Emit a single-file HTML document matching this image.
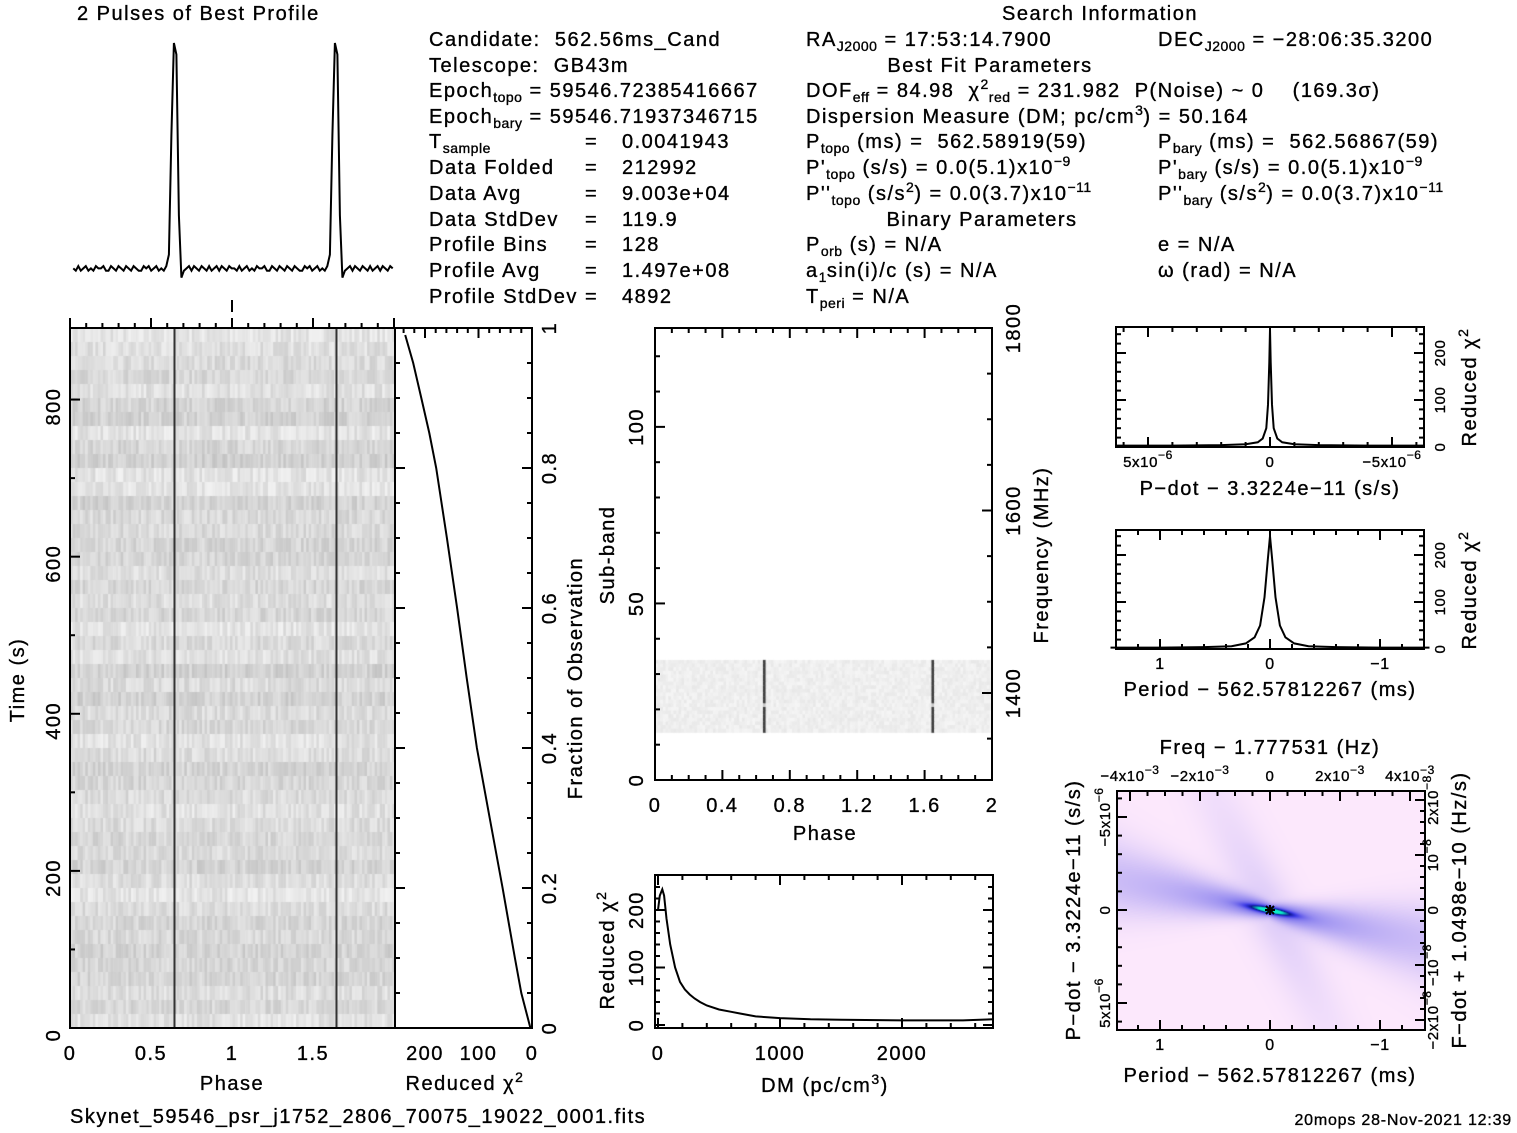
<!DOCTYPE html>
<html><head><meta charset="utf-8"><style>
html,body{margin:0;padding:0;background:#fff;}
#wrap{position:relative;width:1517px;height:1133px;overflow:hidden;background:#fff;}
canvas{position:absolute;}
svg{position:absolute;left:0;top:0;}
text{font-family:"Liberation Sans",sans-serif;font-size:20px;fill:#000;white-space:pre;letter-spacing:1.5px;stroke:#000;stroke-width:0.35px;}
.sm{font-size:14px;letter-spacing:0.5px;}
</style></head><body>
<div id="wrap">
<canvas id="cTP" width="325" height="700" style="left:70px;top:328px"></canvas>
<canvas id="cSB" width="337" height="452" style="left:655px;top:328px"></canvas>
<canvas id="cPP" width="308" height="239" style="left:1117px;top:791px"></canvas>
<svg id="svg" width="1517" height="1133" xmlns="http://www.w3.org/2000/svg">
<g>
<text x="77" y="20">2 Pulses of Best Profile</text>
<text x="1100" y="20" text-anchor="middle">Search Information</text>
<text x="429" y="46">Candidate:  562.56ms_Cand</text>
<text x="429" y="72">Telescope:  GB43m</text>
<text x="429" y="97">Epoch<tspan dy="5" class="sm">topo</tspan><tspan dy="-5"> = 59546.72385416667</tspan></text>
<text x="429" y="123">Epoch<tspan dy="5" class="sm">bary</tspan><tspan dy="-5"> = 59546.71937346715</tspan></text>
<text x="429" y="148">T<tspan dy="5" class="sm">sample</tspan></text>
<text x="429" y="174">Data Folded</text><text x="429" y="200">Data Avg</text><text x="429" y="226">Data StdDev</text>
<text x="429" y="251">Profile Bins</text><text x="429" y="277">Profile Avg</text><text x="429" y="303">Profile StdDev</text>
<text x="585" y="148">=</text><text x="585" y="174">=</text><text x="585" y="200">=</text><text x="585" y="226">=</text><text x="585" y="251">=</text><text x="585" y="277">=</text><text x="585" y="303">=</text>
<text x="622" y="148">0.0041943</text><text x="622" y="174">212992</text><text x="622" y="200">9.003e+04</text><text x="622" y="226">119.9</text><text x="622" y="251">128</text><text x="622" y="277">1.497e+08</text><text x="622" y="303">4892</text>
<text x="806" y="46">RA<tspan dy="5" class="sm">J2000</tspan><tspan dy="-5"> = 17:53:14.7900</tspan></text>
<text x="1158" y="46">DEC<tspan dy="5" class="sm">J2000</tspan><tspan dy="-5"> = −28:06:35.3200</tspan></text>
<text x="990" y="72" text-anchor="middle">Best Fit Parameters</text>
<text x="806" y="97">DOF<tspan dy="5" class="sm">eff</tspan><tspan dy="-5"> = 84.98  χ</tspan><tspan dy="-8" class="sm">2</tspan><tspan dy="13" class="sm">red</tspan><tspan dy="-5"> = 231.982  P(Noise) ~ 0    (169.3σ)</tspan></text>
<text x="806" y="123">Dispersion Measure (DM; pc/cm<tspan dy="-8" class="sm">3</tspan><tspan dy="8">) = 50.164</tspan></text>
<text x="806" y="148">P<tspan dy="5" class="sm">topo</tspan><tspan dy="-5"> (ms) =  562.58919(59)</tspan></text>
<text x="1158" y="148">P<tspan dy="5" class="sm">bary</tspan><tspan dy="-5"> (ms) =  562.56867(59)</tspan></text>
<text x="806" y="174">P'<tspan dy="5" class="sm">topo</tspan><tspan dy="-5"> (s/s) = 0.0(5.1)x10</tspan><tspan dy="-8" class="sm">−9</tspan></text>
<text x="1158" y="174">P'<tspan dy="5" class="sm">bary</tspan><tspan dy="-5"> (s/s) = 0.0(5.1)x10</tspan><tspan dy="-8" class="sm">−9</tspan></text>
<text x="806" y="200">P''<tspan dy="5" class="sm">topo</tspan><tspan dy="-5"> (s/s</tspan><tspan dy="-8" class="sm">2</tspan><tspan dy="8">) = 0.0(3.7)x10</tspan><tspan dy="-8" class="sm">−11</tspan></text>
<text x="1158" y="200">P''<tspan dy="5" class="sm">bary</tspan><tspan dy="-5"> (s/s</tspan><tspan dy="-8" class="sm">2</tspan><tspan dy="8">) = 0.0(3.7)x10</tspan><tspan dy="-8" class="sm">−11</tspan></text>
<text x="982" y="226" text-anchor="middle">Binary Parameters</text>
<text x="806" y="251">P<tspan dy="5" class="sm">orb</tspan><tspan dy="-5"> (s) = N/A</tspan></text>
<text x="1158" y="251">e = N/A</text>
<text x="806" y="277">a<tspan dy="5" class="sm">1</tspan><tspan dy="-5">sin(i)/c (s) = N/A</tspan></text>
<text x="1158" y="277">ω (rad) = N/A</text>
<text x="806" y="303">T<tspan dy="5" class="sm">peri</tspan><tspan dy="-5"> = N/A</tspan></text>
</g>
<g id="plots"></g>
<text x="70" y="1123">Skynet_59546_psr_j1752_2806_70075_19022_0001.fits</text>
<text x="1512" y="1125" text-anchor="end" style="font-size:16px;letter-spacing:0.8px">20mops 28-Nov-2021 12:39</text>
</svg>
</div>
<script>
// ---- data ----
const profileBins = [2,1,3,1,2,3,1,2,1,3,2,2,3,1,1,3,2,1,3,2,1,3,2,1,3,2,1,1,3,2,3,1,2,3,1,2,1,3,8,60,100,95,25,-2,1,2,3,1,3,2,1,3,2,1,3,1,2,3,1,3,2,1,3,2];
const fracObs = [0,0.05,0.1,0.2,0.3,0.4,0.5,0.6,0.7,0.8,0.85,0.9,0.95,0.99];
const chiFrac = [3,20,32,55,79,103,122,140,159,179,192,207,222,237];
const dmVals = [0,15,35,50,70,100,140,180,220,260,300,344,400,500,600,672,800,1000,1250,1500,2000,2500,2750];
const dmChi = [200,225,236,225,185,140,100,75,62,53,46,40,34,27,23,20,15,12,10,9,8,8,10];
const pdOff = [-6.3,-4,-2,-1,-0.5,-0.3,-0.15,-0.08,-0.03,0,0.03,0.08,0.15,0.3,0.5,1,2,4,6.3];
const pdChi = [3,3,4,6,10,18,40,90,180,250,180,90,40,18,10,6,4,3,3];
const perOff = [-1.45,-1,-0.6,-0.35,-0.22,-0.14,-0.09,-0.05,-0.02,0,0.02,0.05,0.09,0.14,0.22,0.35,0.6,1,1.45];
const perChi = [3,3,4,6,12,25,50,110,190,240,190,110,50,25,12,6,4,3,3];
const pulsePhase = 0.645;

const NS="http://www.w3.org/2000/svg";
const G=document.getElementById('plots');
function el(tag,attrs,parent){const e=document.createElementNS(NS,tag);for(const k in attrs)e.setAttribute(k,attrs[k]);(parent||G).appendChild(e);return e;}
function txt(x,y,s,opt){opt=opt||{};const t=el('text',{x:x,y:y,'text-anchor':opt.anchor||'middle'});
 if(opt.rot)t.setAttribute('transform','rotate('+opt.rot+' '+x+' '+y+')');
 if(opt.size){t.style.fontSize=opt.size+'px';if(opt.size<17)t.style.letterSpacing='0.6px';}t.innerHTML=s;
 
 return t;}
function lin(d0,d1,p0,p1){return v=>p0+(v-d0)*(p1-p0)/(d1-d0);}
function box(x0,y0,x1,y1,name){const r=el('rect',{x:x0,y:y0,width:x1-x0,height:y1-y0,fill:'none',stroke:'#000','stroke-width':2});
 }
function tick(x1,y1,x2,y2){const l=el('line',{x1:x1,y1:y1,x2:x2,y2:y2,stroke:'#000','stroke-width':2});
 }
function hticks(x0,x1,y,step,major,dir,sc,lo,hi){for(let v=Math.ceil(lo/step)*step;v<=hi+1e-9;v+=step){const x=sc(v);if(x<x0-0.5||x>x1+0.5)continue;const isM=Math.abs(v/major-Math.round(v/major))<1e-6;tick(x,y,x,y+dir*(isM?10:5));}}
function vticks(y0,y1,x,step,major,dir,sc,lo,hi){for(let v=Math.ceil(lo/step)*step;v<=hi+1e-9;v+=step){const y=sc(v);if(y<y0-0.5||y>y1+0.5)continue;const isM=Math.abs(v/major-Math.round(v/major))<1e-6;tick(x,y,x+dir*(isM?10:5),y);}}
function path(pts,name){const p=el('path',{d:'M'+pts.map(p=>p[0].toFixed(1)+','+p[1].toFixed(1)).join('L'),fill:'none',stroke:'#000','stroke-width':2});
 }

// ---- profile ----
{const px=lin(0,2,72,394), py=lin(0,100,273,43);const pts=[];
 for(let k=0;k<2;k++)for(let i=0;i<profileBins.length;i++)pts.push([px(k+(i+0.5)/profileBins.length),py(profileBins[i])]);
 path(pts,'pulse-profile-line');tick(232,300,232,312);}

// ---- time vs phase ----
{const X0=70,X1=395,Y0=328,Y1=1028;const px=lin(0,2,70,394),ty=lin(0,900,1028,321);
 const c=document.getElementById('cTP').getContext('2d');let s=7;const R=()=>{s=(s*16807)%2147483647;return s/2147483647;};
 const rows=50,cols=128;for(let r=0;r<rows;r++){const rb=R()*22;for(let i=0;i<cols;i++){let g=215-rb+R()*28;
  c.fillStyle='rgb('+(g|0)+','+(g|0)+','+(g|0)+')';c.fillRect(i*325/cols,r*14,325/cols+0.5,14.5);}}
 for(let k=0;k<2;k++){const l=el('line',{x1:px(k+pulsePhase),y1:Y0,x2:px(k+pulsePhase),y2:Y1,stroke:'#333','stroke-width':2});
  }
 box(X0,Y0,X1,Y1,'time-phase-frame');
 hticks(X0,X1,Y0,0.1,0.5,-1,px,0,2);
 vticks(Y0,Y1,X0,100,200,1,ty,0,900);
 [0,200,400,600,800].forEach(v=>txt(60,ty(v)+7,v,{rot:-90,name:'time-tick-label'}));
 [[0,'0'],[0.5,'0.5'],[1,'1'],[1.5,'1.5']].forEach(a=>txt(px(a[0]),1060,a[1],{name:'phase-tick-label'}));
 txt(232,1090,'Phase',{name:'x-axis-title'});txt(24,680,'Time (s)',{rot:-90,name:'y-axis-title'});}

// ---- chi2 vs fraction ----
{const X0=395,X1=532,Y0=328,Y1=1028;const cx=lin(0,200,532,425),fy=lin(0,1,1028,328);
 box(X0,Y0,X1,Y1,'chi2-fraction-frame');
 hticks(X0,X1,Y0,20,100,1,cx,0,250);
 vticks(Y0,Y1,X0,0.05,0.2,1,fy,0,1);vticks(Y0,Y1,X1,0.05,0.2,-1,fy,0,1);
 [[200,'200'],[100,'100'],[0,'0']].forEach(a=>txt(cx(a[0]),1060,a[1],{name:'chi2-tick-label'}));
 [0,0.2,0.4,0.6,0.8,1].forEach(v=>txt(556,fy(v),v,{rot:-90,name:'fraction-tick-label'}));
 txt(465,1090,'Reduced χ<tspan dy="-8" font-size="14">2</tspan>',{name:'x-axis-title'});
 txt(582,678,'Fraction of Observation',{rot:-90,name:'y-axis-title'});
 path(fracObs.map((f,i)=>[cx(chiFrac[i]),fy(f)]),'chi2-vs-fraction-line');}

// ---- subband ----
{const X0=655,X1=992,Y0=328,Y1=780;const px=lin(0,2,655,992),sy=lin(0,128,780,328),fy=lin(1400,1800,693,328);
 const c=document.getElementById('cSB').getContext('2d');let s=11;const R=()=>{s=(s*16807)%2147483647;return s/2147483647;};
 const yA=sy(34)-328,yB=sy(13.5)-328;const nr=20;for(let r=0;r<nr;r++)for(let i=0;i<128;i++){const ph=(i+0.5)/64;let g=232+R()*14;
  if(Math.abs((ph%1)-pulsePhase)<0.008)g=(r>11&&r<13)?200:60;c.fillStyle='rgb('+(g|0)+','+(g|0)+','+(g|0)+')';c.fillRect(i*337/128,yA+r*(yB-yA)/nr,337/128+0.5,(yB-yA)/nr+0.5);}
 box(X0,Y0,X1,Y1,'subband-frame');
 hticks(X0,X1,Y1,0.1,0.4,-1,px,0,2);hticks(X0,X1,Y0,0.1,0.4,1,px,0,2);
 vticks(Y0,Y1,X0,10,50,1,sy,0,128);vticks(Y0,Y1,X1,50,200,-1,fy,1350,1800);
 [[0,'0'],[0.4,'0.4'],[0.8,'0.8'],[1.2,'1.2'],[1.6,'1.6'],[2,'2']].forEach(a=>txt(px(a[0]),812,a[1],{name:'phase-tick-label'}));
 [0,50,100].forEach(v=>txt(643,sy(v),v,{rot:-90,name:'subband-tick-label'}));
 [1400,1600,1800].forEach(v=>txt(1020,fy(v),v,{rot:-90,name:'freq-tick-label'}));
 txt(825,840,'Phase',{name:'x-axis-title'});txt(614,555,'Sub-band',{rot:-90,name:'y-axis-title'});
 txt(1048,555,'Frequency (MHz)',{rot:-90,name:'y2-axis-title'});}

// ---- DM ----
{const X0=655,X1=993,Y0=875,Y1=1028;const dx=lin(0,1000,658,780),cy=lin(0,200,1025,910);
 box(X0,Y0,X1,Y1,'dm-frame');
 hticks(X0,X1,Y1,200,1000,-1,dx,0,2750);hticks(X0,X1,Y0,200,1000,1,dx,0,2750);
 vticks(Y0,Y1,X0,20,100,1,cy,0,250);vticks(Y0,Y1,X1,20,100,-1,cy,0,250);
 [0,1000,2000].forEach(v=>txt(dx(v),1060,v,{name:'dm-tick-label'}));
 [0,100,200].forEach(v=>txt(643,cy(v),v,{rot:-90,name:'chi2-tick-label'}));
 txt(825,1092,'DM (pc/cm<tspan dy="-8" font-size="14">3</tspan><tspan dy="8">)</tspan>',{name:'x-axis-title'});
 txt(614,950,'Reduced χ<tspan dy="-8" font-size="14">2</tspan>',{rot:-90,name:'y-axis-title'});
 path(dmVals.map((d,i)=>[dx(d),cy(dmChi[i])]),'dm-chi2-line');}

// ---- pdot chi2 ----
{const X0=1116,X1=1424,Y0=327,Y1=447;const xx=lin(0,-5,1270,1392),cy=lin(0,100,447,400);
 box(X0,Y0,X1,Y1,'pdot-chi2-frame');
 hticks(X0,X1,Y1,1,5,-1,xx,-6.3,6.3);hticks(X0,X1,Y0,1,5,1,xx,-6.3,6.3);
 vticks(Y0,Y1,X0,20,100,1,cy,0,250);vticks(Y0,Y1,X1,20,100,-1,cy,0,250);
 txt(xx(5),467,'5x10<tspan dy="-8" font-size="12">−6</tspan>',{size:15,name:'pdot-tick-label'});
 txt(xx(0),467,'0',{size:15,name:'pdot-tick-label'});
 txt(xx(-5),467,'−5x10<tspan dy="-8" font-size="12">−6</tspan>',{size:15,name:'pdot-tick-label'});
 [0,100,200].forEach(v=>txt(1445,cy(v),v,{rot:-90,size:15,name:'chi2-tick-label'}));
 txt(1476,387,'Reduced χ<tspan dy="-8" font-size="14">2</tspan>',{rot:-90,name:'y-axis-title'});
 txt(1270,495,'P−dot − 3.3224e−11 (s/s)',{name:'x-axis-title'});
 path(pdOff.map((d,i)=>[xx(-d),cy(pdChi[i])]),'pdot-chi2-line');}

// ---- period chi2 ----
{const X0=1116,X1=1424,Y0=530,Y1=649;const xx=lin(0,-1,1270,1380),cy=lin(0,100,649,602);
 box(X0,Y0,X1,Y1,'period-chi2-frame');
 hticks(X0,X1,Y1,0.2,1,-1,xx,-1.4,1.4);hticks(X0,X1,Y0,0.2,1,1,xx,-1.4,1.4);
 vticks(Y0,Y1,X0,20,100,1,cy,0,250);vticks(Y0,Y1,X1,20,100,-1,cy,0,250);
 [[1,'1'],[0,'0'],[-1,'−1']].forEach(a=>txt(xx(a[0]),669,a[1],{size:16,name:'period-tick-label'}));
 [0,100,200].forEach(v=>txt(1445,cy(v),v,{rot:-90,size:15,name:'chi2-tick-label'}));
 txt(1476,590,'Reduced χ<tspan dy="-8" font-size="14">2</tspan>',{rot:-90,name:'y-axis-title'});
 txt(1270,696,'Period − 562.57812267 (ms)',{name:'x-axis-title'});
 path(perOff.map((d,i)=>[xx(-d),cy(perChi[i])]),'period-chi2-line');}

// ---- P-Pdot plane ----
{const X0=1117,X1=1425,Y0=791,Y1=1030;const xx=lin(0,-1,1270,1380),yy=lin(0,5,910,1003),fx=lin(0,0.002,1270,1340),fdy=lin(0,1,910,855);
 const c=document.getElementById('cPP').getContext('2d');const img=c.createImageData(308,239);
 const cx=153,cy=119,ang=Math.atan2(62,308);const ux=Math.cos(ang),uy=Math.sin(ang);
 for(let j=0;j<239;j++)for(let i=0;i<308;i++){const dx=i-cx,dy=j-cy;const a=dx*ux+dy*uy,b=-dx*uy+dy*ux;const r=Math.hypot(dx,dy);
  const w=4+Math.abs(a)*0.14;let v=0.55*Math.exp(-b*b/(2*w*w))*(0.25+0.75*Math.exp(-Math.abs(a)/70));v+=0.9*Math.exp(-(a*a/500+b*b/8));
  v+=0.12*Math.exp(-Math.pow((dx*0.9-dy*0.45)/25,2))*Math.exp(-r/120);
  let R,Gc,B;if(v<0.7){const t=v/0.7;R=252-t*190;Gc=232-t*172;B=252-t*22;}else if(v<0.95){const t=(v-0.7)/0.25;R=60-t*50;Gc=60-t*40;B=230-t*90;}else{const t=Math.min(1,(v-0.95)/0.3);R=10;Gc=40+t*200;B=140+t*60;}
  const k=(j*308+i)*4;img.data[k]=R;img.data[k+1]=Gc;img.data[k+2]=B;img.data[k+3]=255;}
 c.putImageData(img,0,0);
 box(X0,Y0,X1,Y1,'p-pdot-frame');
 hticks(X0,X1,Y1,0.2,1,-1,xx,-1.4,1.4);hticks(X0,X1,Y0,0.0005,0.002,1,fx,-0.0045,0.0045);
 vticks(Y0,Y1,X0,1,5,1,yy,-6.5,6.5);vticks(Y0,Y1,X1,0.2,1,-1,fdy,-2.2,2.2);
 const star=el('path',{d:'M1265,910h10M1270,905v10M1266,906l8,8M1274,906l-8,8',stroke:'#000','stroke-width':2});
 
 [[1,'1'],[0,'0'],[-1,'−1']].forEach(a=>txt(xx(a[0]),1050,a[1],{size:16,name:'period-tick-label'}));
 [[-0.004,'−4x10<tspan dy="-7" font-size="12">−3</tspan>'],[-0.002,'−2x10<tspan dy="-7" font-size="12">−3</tspan>'],[0,'0'],[0.002,'2x10<tspan dy="-7" font-size="12">−3</tspan>'],[0.004,'4x10<tspan dy="-7" font-size="12">−3</tspan>']].forEach(a=>txt(fx(a[0]),781,a[1],{size:15,name:'freq-tick-label'}));
 [[-5,'−5x10<tspan dy="-7" font-size="12">−6</tspan>'],[0,'0'],[5,'5x10<tspan dy="-7" font-size="12">−6</tspan>']].forEach(a=>txt(1110,yy(a[0]),a[1],{rot:-90,size:15,name:'pdot-tick-label'}));
 [[2,'2x10<tspan dy="-7" font-size="12">−8</tspan>'],[1,'10<tspan dy="-7" font-size="12">−8</tspan>'],[0,'0'],[-1,'−10<tspan dy="-7" font-size="12">−8</tspan>'],[-2,'−2x10<tspan dy="-7" font-size="12">−8</tspan>']].forEach(a=>txt(1438,fdy(a[0]),a[1],{rot:-90,size:15,name:'fdot-tick-label'}));
 txt(1270,754,'Freq − 1.777531 (Hz)',{name:'x2-axis-title'});
 txt(1270,1082,'Period − 562.57812267 (ms)',{name:'x-axis-title'});
 txt(1080,910,'P−dot − 3.3224e−11 (s/s)',{rot:-90,name:'y-axis-title'});
 txt(1466,910,'F−dot + 1.0498e−10 (Hz/s)',{rot:-90,name:'y2-axis-title'});}
</script>
</body></html>
